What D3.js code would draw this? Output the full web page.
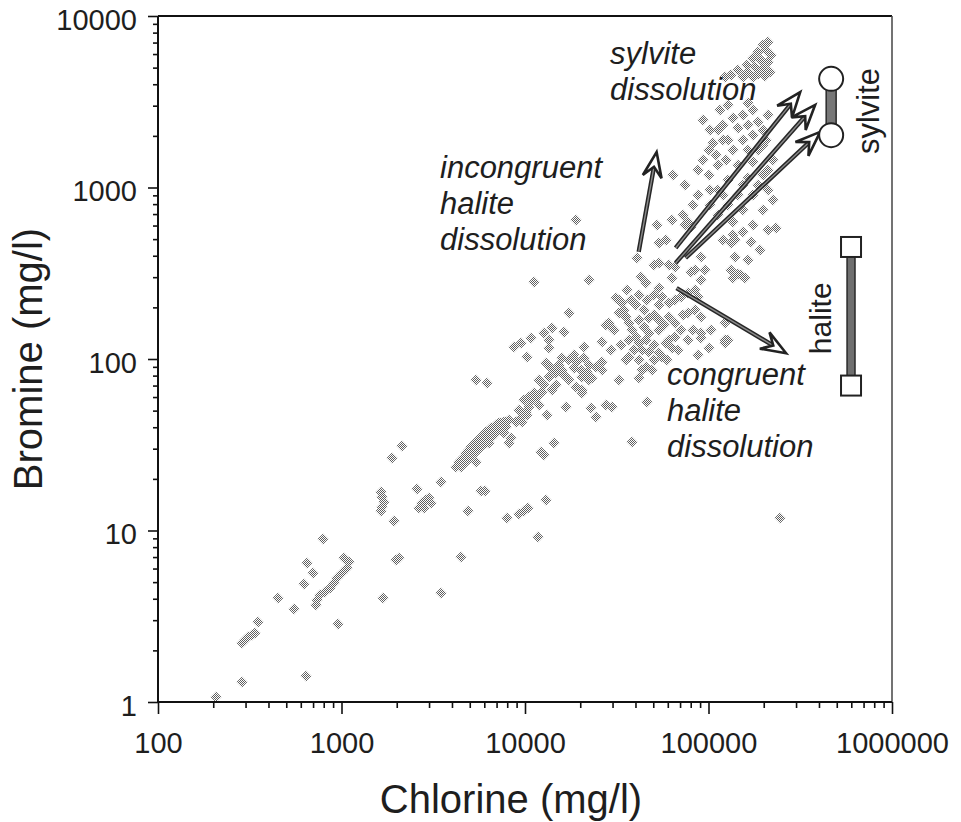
<!DOCTYPE html>
<html><head><meta charset="utf-8">
<script src="https://cdn.jsdelivr.net/npm/d3@7"></script>
<style>
body{margin:0;background:#fff}
text{font-family:"Liberation Sans",Arial,Helvetica,sans-serif;fill:#1e1e1e}
</style>
</head><body>
<svg id="c" width="961" height="822"></svg>
<script>
// ---------- data ----------
const xTickValues = [100, 1000, 10000, 100000, 1000000];
const yTickValues = [1, 10, 100, 1000, 10000];
const xTitle = "Chlorine (mg/l)";
const yTitle = "Bromine (mg/l)";

// samples: [chlorine mg/l, bromine mg/l]
const samplesLow = [
[207,1.07],[286,1.31],[640,1.42],[286,2.21],[297,2.30],[309,2.39],[324,2.46],[337,2.52],[349,2.93],
[449,4.04],[548,3.49],[621,4.88],[645,6.46],[696,5.65],[790,8.92],[722,3.68],[735,3.93],[759,4.21],
[809,4.38],[861,4.62],[906,4.94],[951,5.28],[1012,5.65],[1078,6.04],[1038,6.91],[1105,6.55],[963,2.85],
[1693,4.04],[1941,11.4],[1640,16.8],[1672,15.7],[1714,14.7],[1672,13.7],[1650,13.0],[1893,26.5],
[2146,31.1],[2066,6.91],[1990,6.73],[2590,17.5],[2655,13.5],[2755,14.5],[2897,15.1],[3007,15.5],
[3083,14.5],[2825,13.5]
];
const samplesScatter = [
[3495,19.2],[3495,4.32],[4489,7.00],[4897,13.0],[5766,17.0],[6050,17.0],[5420,25.1],[7985,11.8],
[9273,12.5],[9880,13.0],[10380,13.5],[11770,9.16],[13000,15.1],[12220,28.7],[12680,27.6],[14370,32.4],
[38150,32.8],[245000,11.8],[5420,75.4],[6215,72.5],[11200,281],[18920,646],[29710,52.5],[27540,53.9],
[24320,45.9],[22850,51.8],[46030,56.2],[123700,129]
];
const samplesBand = [
[4218,23.5],[4377,25.1],[4489,25.8],[4660,26.8],[4777,28.3],[4962,29.5],[5090,30.7],[5283,31.5],
[5420,32.8],[5623,33.7],[5766,35.1],[5980,36.0],[6134,37.5],[6366,38.5],[6531,39.6],[6790,40.1],
[6957,41.2],[7222,42.4],[7406,42.4],[7694,42.9],[7889,42.9],[8185,44.1],
[4489,23.5],[4777,25.1],[5090,27.6],[5420,28.7],[5766,30.7],[6134,32.4],[6531,34.6],[6957,37.0],
[7406,38.5],[7889,40.1],[8395,34.6],[8185,32.4],[7694,37.0],[6366,32.4],[4962,26.5],[5623,31.5],
[8933,42.9],[9510,45.3],[9632,42.9],[10120,49.1],[10510,52.5],[10920,57.7],[11620,60.0],[12370,64.2],
[9880,57.7],[10510,60.0],[11200,63.4],[9273,50.4],[10250,47.1],[11920,53.9],[13180,47.1],[16710,52.5]
];
const samplesStar = [
[13000,94.8],[13840,88.6],[14740,82.9],[15890,86.3],[17340,98.7],[18460,105],[19180,96.1],[20150,86.3],
[20400,78.5],[21730,84.0],[23140,77.5],[24320,89.8],[26200,96.1],[17340,75.4],[18920,68.7],[20400,65.9],
[22280,75.4],[26200,86.3],[13500,78.5],[14740,70.5],[20400,63.4],[15300,92.3],[16300,80.7],[18460,88.6],
[22280,92.3],[14020,65.9],[12680,70.5],[11920,75.4],[15890,101],[20930,101]
];
const samplesMid = [
[8710,117],[9510,124],[10250,103],[10790,133],[12680,142],[13500,129],[13500,116],[14020,152],[16300,144],
[17340,186],[20930,117],[26200,126],[29330,113],[28610,162],[31240,227],[32450,75.4],[32450,186],
[27540,158],[29330,154]
];
const samplesDense = [
[35400,176],[36750,162],[38150,148],[40100,135],[41640,124],[43240,113],[39120,113],[36750,103],[35400,98.7],
[45450,129],[47190,142],[44330,154],[41640,169],[47190,110],[53460,108],[50230,98.7],[55490,103],[45450,89.8],
[43240,86.3],[41640,77.5],[48990,86.3],[34530,193],[33680,212],
[55490,230],[60550,212],[66070,221],[71200,230],[77700,243],[84780,253],[60550,176],[66070,162],[71200,148],
[66070,135],[77700,186],[84780,193],[91370,176],[91370,142],[100000,116],[58330,124],[62860,116],[53460,207],
[56890,158],[50230,181],[60550,129],[77700,129],[91370,133],[80650,321],[96040,330],[91370,289],[88010,230],
[123700,124],[37670,221],[41640,236],[46030,221],[50230,236],[44330,193],[40100,207],[53460,169],[47190,174],
[32450,221],[35800,253],[30460,148],[33270,121],[41640,98.7],[50230,121],[59100,98.7],[68590,113],[73000,181],
[82690,148],[88010,105],[53460,148],[36750,129]
];
const samplesUpper = [
[64440,1180],[74840,1035],[52140,604],[62860,646],[73000,691],[77700,629],[80650,589],[53460,475],[40600,388],
[50230,353],[60550,353],[66070,344],[22280,289],[42690,301],[45450,277],[62860,297],[53460,259],[91370,393],
[84780,330],[140200,494],[171200,481],[140200,393],[133300,330],[145600,313],[158900,297],[123700,162],
[103800,148],[128400,129],[53460,363],[58330,494],[74840,604],[133300,475],[136700,297],[151100,309]
];
const samplesSylviteRich = [
[211800,7050],[199000,6780],[207000,6340],[186900,6170],[219900,5930],[175600,5690],[194000,5540],[211800,5390],
[161100,5180],[180000,5040],[199000,4960],[145600,4840],[164900,4690],[186900,4580],[215800,4690],[133300,4530],
[155000,4410],[123700,4410],[175600,4410],[204000,4470],
[116200,2830],[128400,3030],[164900,3110],[175600,2830],[155000,2650],[136700,2550],[120600,2310],[113300,2160],
[145600,2220],[164900,2310],[186900,2400],[199000,2160],[175600,2020],[155000,1890],[128400,1890],[106400,1820],
[136700,1650],[100000,1650],[93670,1450],[164900,1650],[199000,1770],[211800,2650],[88010,1260],[113300,1350],
[145600,1350],[175600,1410],[100000,1180],[128400,1105],[164900,1136],[199000,1180],[113300,967],[145600,904],
[175600,904],[211800,967],[128400,791],[155000,739],[199000,739],[225500,846],[136700,629],[175600,604],
[211800,565],[155000,550],[234100,577],[113300,691],[102000,791],[88010,904],[82690,791],
[93670,2480],[102500,2160],[120600,1890],[110400,1550],[125300,1450],[155000,1035],[186900,1035],[120600,904],
[102500,967],[136700,528],[191900,432],[164900,378],[120600,494],[206400,1890],[225500,1450],[186900,1650],
[211800,1260]
];

// end-members
const haliteCl = 598000, haliteBr = [70, 450];
const sylviteCl = 466000, sylviteBr = [2020, 4300];

// process arrows: [from Cl, from Br, to Cl, to Br]
const arrowIncongruent = [41650, 421, 52150, 1610];
const arrowsSylvite = [[66200, 444, 316000, 3600], [66200, 363, 381000, 3030], [75000, 388, 406000, 2110]];
const arrowCongruent = [67000, 259, 265000, 108];

const labelSylviteDiss = ["sylvite", "dissolution"];
const labelIncongruent = ["incongruent", "halite", "dissolution"];
const labelCongruent = ["congruent", "halite", "dissolution"];

// ---------- drawing ----------
const L = 158, R = 892, T = 16, B = 702;
const svg = d3.select('#c');
const x = d3.scaleLog().domain([100, 1000000]).range([L, R]);
const y = d3.scaleLog().domain([1, 10000]).range([B, T]);

const defs = svg.append('defs');
const pat = defs.append('pattern').attr('id', 'dots').attr('width', 2).attr('height', 2)
  .attr('patternUnits', 'userSpaceOnUse');
pat.append('rect').attr('width', 1).attr('height', 1).attr('fill', '#5e5e5e');
pat.append('rect').attr('x', 1).attr('y', 1).attr('width', 1).attr('height', 1).attr('fill', '#5e5e5e');

// frame top and right
svg.append('line').attr('x1', L).attr('x2', R).attr('y1', T).attr('y2', T)
  .attr('stroke', '#111').attr('stroke-width', 2);
svg.append('line').attr('x1', R).attr('x2', R).attr('y1', T).attr('y2', B)
  .attr('stroke', '#444').attr('stroke-width', 1.5);

// samples
const allSamples = [].concat(samplesLow, samplesScatter, samplesBand, samplesStar, samplesMid,
  samplesDense, samplesUpper, samplesSylviteRich);
const s = 5.5;
svg.append('g').selectAll('path').data(allSamples).join('path')
  .attr('d', d => {
    const px = Math.round(x(d[0])), py = Math.round(y(d[1]));
    return `M${px},${py - s}L${px + s},${py}L${px},${py + s}L${px - s},${py}Z`;
  })
  .attr('fill', 'url(#dots)');

// axes
const xMinor = x.ticks().filter(v => !xTickValues.includes(v));
const yMinor = y.ticks().filter(v => !yTickValues.includes(v));

const gy = svg.append('g').attr('transform', `translate(${L},0)`);
gy.call(d3.axisLeft(y).tickValues(yTickValues).tickSize(10).tickFormat(d => String(d)));
const gy2 = svg.append('g').attr('transform', `translate(${L},0)`);
gy2.call(d3.axisLeft(y).tickValues(yMinor).tickSize(5).tickFormat(''));
const gx = svg.append('g').attr('transform', `translate(0,${B})`);
gx.call(d3.axisBottom(x).tickValues(xTickValues).tickSize(12).tickFormat(d => String(d)));
const gx2 = svg.append('g').attr('transform', `translate(0,${B})`);
gx2.call(d3.axisBottom(x).tickValues(xMinor).tickSize(6).tickFormat(''));

[gy, gy2, gx, gx2].forEach(g => {
  g.select('.domain').attr('stroke', '#111').attr('stroke-width', 2);
  g.selectAll('.tick line').attr('stroke', '#111').attr('stroke-width', 1.6);
});
gy2.select('.domain').remove(); gx2.select('.domain').remove();
gy.select('.domain').attr('d', `M0,${T}V${B}`);
gx.select('.domain').attr('d', `M${L},0H${R}`);

gy.selectAll('.tick text').attr('x', -21).attr('dy', null).attr('y', 13)
  .style('font-size', '29px').attr('fill', '#1e1e1e').attr('font-family', null);
gx.selectAll('.tick text').attr('y', 51).attr('dy', null)
  .style('font-size', '29px').attr('fill', '#1e1e1e').attr('font-family', null);

// axis titles
svg.append('text').attr('x', 511).attr('y', 813).attr('text-anchor', 'middle')
  .style('font-size', '40px').text(xTitle);
svg.append('text').attr('transform', `translate(42,359) rotate(-90)`).attr('text-anchor', 'middle')
  .style('font-size', '40px').text(yTitle);

// arrows
function arrow(a) {
  const x0 = x(a[0]), y0 = y(a[1]), x1 = x(a[2]), y1 = y(a[3]);
  const dx = x1 - x0, dy = y1 - y0, len = Math.hypot(dx, dy);
  const ux = dx / len, uy = dy / len, nx = -uy, ny = ux;
  const hl = 25, hw = 9.5, notch = 15;
  const sx = x1 - ux * notch, sy = y1 - uy * notch;
  const g = svg.append('g');
  g.append('line').attr('x1', x0).attr('y1', y0).attr('x2', sx).attr('y2', sy)
    .attr('stroke', '#262626').attr('stroke-width', 4.4);
  g.append('line').attr('x1', x0).attr('y1', y0).attr('x2', sx).attr('y2', sy)
    .attr('stroke', '#8a8a8a').attr('stroke-width', 1.4);
  const p = [[x1, y1], [x1 - ux * hl + nx * hw, y1 - uy * hl + ny * hw], [sx, sy],
             [x1 - ux * hl - nx * hw, y1 - uy * hl - ny * hw]];
  g.append('path').attr('d', 'M' + p.map(q => q.join(',')).join('L') + 'Z')
    .attr('fill', '#fff').attr('stroke', '#222').attr('stroke-width', 2.6).attr('stroke-linejoin', 'miter');
}
arrow(arrowIncongruent);
arrowsSylvite.forEach(arrow);
arrow(arrowCongruent);

// halite end-member
const hx = x(haliteCl), hyTop = y(haliteBr[1]), hyBot = y(haliteBr[0]);
svg.append('rect').attr('x', hx - 4).attr('y', hyTop).attr('width', 8).attr('height', hyBot - hyTop)
  .attr('fill', '#6f6f6f').attr('stroke', '#222').attr('stroke-width', 1.4);
haliteBr.forEach(v => {
  svg.append('rect').attr('x', hx - 10).attr('y', y(v) - 10).attr('width', 20).attr('height', 20)
    .attr('fill', '#fff').attr('stroke', '#222').attr('stroke-width', 2);
});
svg.append('text').attr('transform', `translate(${hx - 20},${(hyTop + hyBot) / 2 + 2}) rotate(-90)`)
  .attr('text-anchor', 'middle').style('font-size', '30px').text('halite');

// sylvite end-member
const sx = x(sylviteCl), syTop = y(sylviteBr[1]), syBot = y(sylviteBr[0]);
svg.append('rect').attr('x', sx - 5).attr('y', syTop).attr('width', 10).attr('height', syBot - syTop)
  .attr('fill', '#777').attr('stroke', '#222').attr('stroke-width', 1.4);
sylviteBr.forEach(v => {
  svg.append('circle').attr('cx', sx).attr('cy', y(v)).attr('r', 12)
    .attr('fill', '#fff').attr('stroke', '#222').attr('stroke-width', 2);
});
svg.append('text').attr('transform', `translate(${sx + 48},${(syTop + syBot) / 2 + 4}) rotate(-90)`)
  .attr('text-anchor', 'middle').style('font-size', '31px').text('sylvite');

// annotations
function label(lines, x0, y0, lh) {
  const t = svg.append('text').attr('x', x0).attr('y', y0)
    .style('font-size', '31px').style('font-style', 'italic');
  lines.forEach((ln, i) => t.append('tspan').attr('x', x0).attr('y', y0 + i * lh).text(ln));
}
label(labelSylviteDiss, 610, 64, 36);
label(labelIncongruent, 440, 178, 36);
label(labelCongruent, 667, 385, 36);
</script>
</body></html>
